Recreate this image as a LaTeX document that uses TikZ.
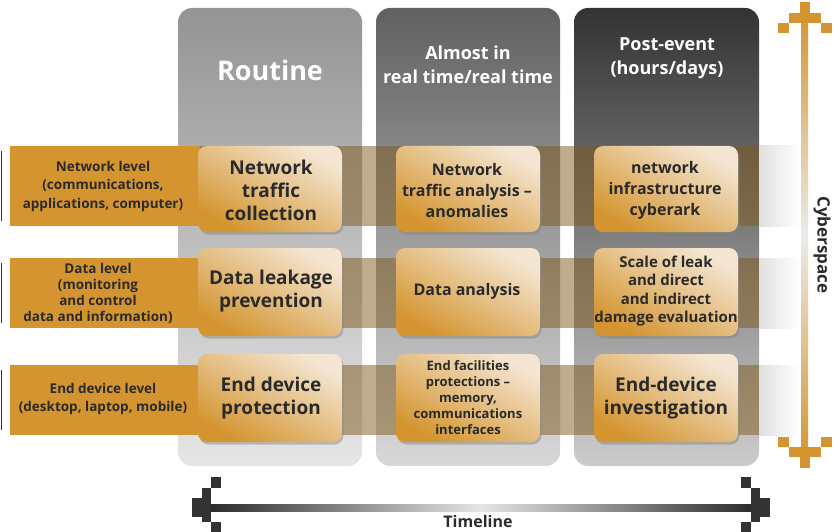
\documentclass[tikz,border=0pt]{standalone}
\usepackage{fontspec}
\setmainfont{Open Sans}
\usetikzlibrary{shadows}
\definecolor{org}{HTML}{D49530}
\definecolor{orgl}{HTML}{F4E6D2}
\definecolor{txt}{HTML}{2A2A2A}
\tikzset{
  colbox/.style={rounded corners=14pt},
  cell/.style={rounded corners=9pt, left color=orgl, right color=org, shading angle=-30,
     drop shadow={shadow xshift=1.5pt,shadow yshift=-2.5pt,opacity=0.45}},
  celltxt/.style={font=\bfseries, text=txt, align=center, inner sep=0pt},
  lefttxt/.style={font=\bfseries\fontsize{13.5}{18.5}\selectfont, text=txt, align=center},
  hdr/.style={font=\bfseries\fontsize{18}{24}\selectfont, text=white, align=center}
}
\newcommand{\pxhead}[1]{% tip at origin, shaft toward +y (down in picture)
  \fill[#1] (-5,0) rectangle (5,11);
  \fill[#1] (-16,11) rectangle (16,21);
  \fill[#1] (-27,21) rectangle (-16,31);
  \fill[#1] (16,21) rectangle (27,31);}
\begin{document}
\begin{tikzpicture}[x=1pt,y=-1pt]
\useasboundingbox (0,0) rectangle (835,532);
\fill[white] (0,0) rectangle (835,532);
% columns
\shade[colbox, top color=black!42, bottom color=black!10] (178,8) rectangle (362,466);
\shade[colbox, top color=black!62, bottom color=black!15] (376,8) rectangle (560,466);
\shade[colbox, top color=black!80, bottom color=black!20] (574,8) rectangle (759,466);
\node[hdr, font=\bfseries\fontsize{27}{30}\selectfont] (h1) at (270,70) {Routine};
\node[hdr] (h2) at (468,65) {Almost in\\real time/real time};
\node[hdr] (h3) at (667,58) {Post-event\\(hours/days)};
% bands
\foreach \ya/\yb in {146/226, 258/328, 365/435}{
  \fill[org!60!black, opacity=0.5] (198,\ya) rectangle (760,\yb);
  \shade[left color=black!12, right color=white] (759,\ya) rectangle (800,\yb);
  \fill[org] (10,\ya) rectangle (200,\yb);
  \draw[black!80, line width=1pt] (1,\ya+5) -- (1,\yb-5);
}
\node[lefttxt] (l1) at (103,186) {Network level\\(communications,\\applications, computer)};
\node[lefttxt, font=\bfseries\fontsize{13.5}{16}\selectfont] (l2) at (98,293) {Data level\\(monitoring\\and control\\data and information)};
\node[lefttxt] (l3) at (103,399) {End device level\\(desktop, laptop, mobile)};
% cells
\foreach \x in {198,396,594}{
  \foreach \ya/\yb in {146/232, 248/336, 354/442}{
    \shade[cell] (\x,\ya) rectangle (\x+144,\yb);
  }
}
\node[celltxt, font=\bfseries\fontsize{19}{23}\selectfont] (c11) at (271,190) {Network\\traffic\\collection};
\node[celltxt, font=\bfseries\fontsize{19}{23}\selectfont] (c12) at (271,291) {Data leakage\\prevention};
\node[celltxt, font=\bfseries\fontsize{19}{23}\selectfont] (c13) at (271,398) {End device\\protection};
\node[celltxt, font=\bfseries\fontsize{16}{21}\selectfont] (c21) at (467,190) {Network\\traffic analysis –\\anomalies};
\node[celltxt, font=\bfseries\fontsize{16}{21}\selectfont] (c22) at (467,291) {Data analysis};
\node[celltxt, font=\bfseries\fontsize{13}{16}\selectfont] (c23) at (468,398) {End facilities\\protections –\\memory,\\communications\\interfaces};
\node[celltxt, font=\bfseries\fontsize{16}{21}\selectfont] (c31) at (665,190) {network\\infrastructure\\cyberark};
\node[celltxt, font=\bfseries\fontsize{15}{18.5}\selectfont] (c32) at (666,291) {Scale of leak\\and direct\\and indirect\\damage evaluation};
\node[celltxt, font=\bfseries\fontsize{19}{23}\selectfont] (c33) at (666,398) {End-device\\investigation};
% cyberspace arrow
\shade[top color=org, bottom color=black!8] (801,11) rectangle (808,235);
\shade[top color=black!8, bottom color=org] (801,235) rectangle (808,459);
\begin{scope}[shift={(804.5,2)}] \pxhead{org} \end{scope}
\begin{scope}[shift={(804.5,468)}, yscale=-1] \pxhead{org} \end{scope}
\node[font=\bfseries\fontsize{17}{20}\selectfont, text=txt, rotate=-90] (cy) at (822,245) {Cyberspace};
% timeline
\shade[left color=black!85, right color=black!10] (202,504) rectangle (481,511);
\shade[left color=black!10, right color=black!85] (481,504) rectangle (760,511);
\fill[black!80] (192,498) rectangle (202,517);
\fill[black!80] (202,488) rectangle (211,522);
\fill[black!80] (211,477) rectangle (221,488);
\fill[black!80] (211,522) rectangle (221,532);
\fill[black!80] (760,498) rectangle (770,517);
\fill[black!80] (751,488) rectangle (760,522);
\fill[black!80] (741,477) rectangle (751,488);
\fill[black!80] (741,522) rectangle (751,532);
\node[font=\bfseries\fontsize{16}{18}\selectfont, text=txt] (tl) at (478,521) {Timeline};
\end{tikzpicture}
\end{document}
